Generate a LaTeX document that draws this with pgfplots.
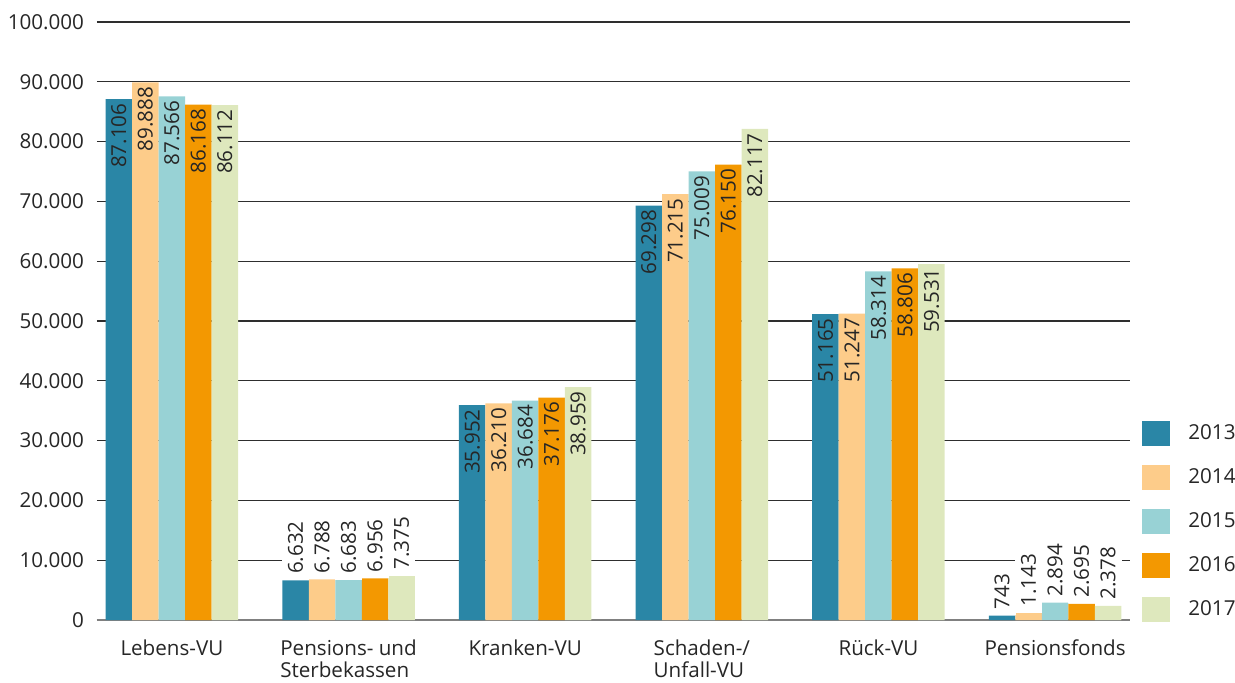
\documentclass[border=0pt]{standalone}
\usepackage{pgfplots}
\pgfplotsset{compat=1.18}
\usepackage{fontspec}
\setmainfont{Open Sans}

\definecolor{c13}{HTML}{2A86A6}
\definecolor{c14}{HTML}{FDCC8A}
\definecolor{c15}{HTML}{98D2D5}
\definecolor{c16}{HTML}{F39801}
\definecolor{c17}{HTML}{DEE8BD}
\definecolor{txt}{HTML}{262626}

\begin{document}
\begin{tikzpicture}
\pgfplotsset{
  inlbl/.style={nodes near coords,
    every node near coord/.append style={rotate=90, anchor=east, inner sep=2pt, text=txt}},
  outlbl/.style={nodes near coords,
    every node near coord/.append style={rotate=90, anchor=west, inner sep=3pt, fill=white, text=txt}},
}
\begin{axis}[
  at={(0,0)}, anchor=south west,
  scale only axis, width=516.5pt, height=299pt,
  font=\fontsize{10.3}{11}\selectfont,
  ybar, bar width=0.15,
  xmin=-0.424, xmax=5.424,
  ymin=0, ymax=100000,
  ytick={0,10000,...,100000},
  scaled y ticks=false,
  /pgf/number format/.cd, fixed, precision=0, 1000 sep={.}, assume math mode=true, /pgfplots/.cd,
  ymajorgrids, grid style={black!82, line width=0.6pt},
  axis x line*=bottom, axis y line*=left,
  x axis line style={black!50, line width=0.8pt},
  y axis line style={draw=none},
  major tick length=0pt,
  xtick={0,...,5},
  xticklabels={Lebens-VU, {Pensions- und\\Sterbekassen}, Kranken-VU, {Schaden-/\\Unfall-VU}, Rück-VU, Pensionsfonds},
  xticklabel style={align=left, text=txt, yshift=-6.5pt},
  yticklabel style={text=txt, xshift=-3pt},
  legend image code/.code={\fill[#1] (-23pt,-6.25pt) rectangle (-9pt,6.25pt); \path (0pt,0pt);},
  legend style={at={(axis description cs:1,0)}, anchor=south west, xshift=6pt, yshift=-1pt,
    draw=none, fill=none, row sep=9.5pt, inner sep=0pt,
    font=\fontsize{10.3}{11}\selectfont,
    nodes={inner sep=0pt, text=txt}},
  legend cell align=left,
]
% 2013
\addplot[draw=none, fill=c13, bar shift=-0.3, inlbl] coordinates {(0,87106) (2,35952) (3,69298) (4,51165)};
\addlegendentry{2013}
\addplot[draw=none, fill=c14, bar shift=-0.15, inlbl] coordinates {(0,89888) (2,36210) (3,71215) (4,51247)};
\addlegendentry{2014}
\addplot[draw=none, fill=c15, bar shift=0, inlbl] coordinates {(0,87566) (2,36684) (3,75009) (4,58314)};
\addlegendentry{2015}
\addplot[draw=none, fill=c16, bar shift=0.15, inlbl] coordinates {(0,86168) (2,37176) (3,76150) (4,58806)};
\addlegendentry{2016}
\addplot[draw=none, fill=c17, bar shift=0.3, inlbl] coordinates {(0,86112) (2,38959) (3,82117) (4,59531)};
\addlegendentry{2017}
% small values: labels above the bars
\addplot[draw=none, fill=c13, bar shift=-0.3, outlbl, forget plot] coordinates {(1,6632) (5,743)};
\addplot[draw=none, fill=c14, bar shift=-0.15, outlbl, forget plot] coordinates {(1,6788) (5,1143)};
\addplot[draw=none, fill=c15, bar shift=0, outlbl, forget plot] coordinates {(1,6683) (5,2894)};
\addplot[draw=none, fill=c16, bar shift=0.15, outlbl, forget plot] coordinates {(1,6956) (5,2695)};
\addplot[draw=none, fill=c17, bar shift=0.3, outlbl, forget plot] coordinates {(1,7375) (5,2378)};
\end{axis}
\pgfresetboundingbox
\path (-48.5pt,-31pt) rectangle (569pt,310pt);
\end{tikzpicture}
\end{document}
